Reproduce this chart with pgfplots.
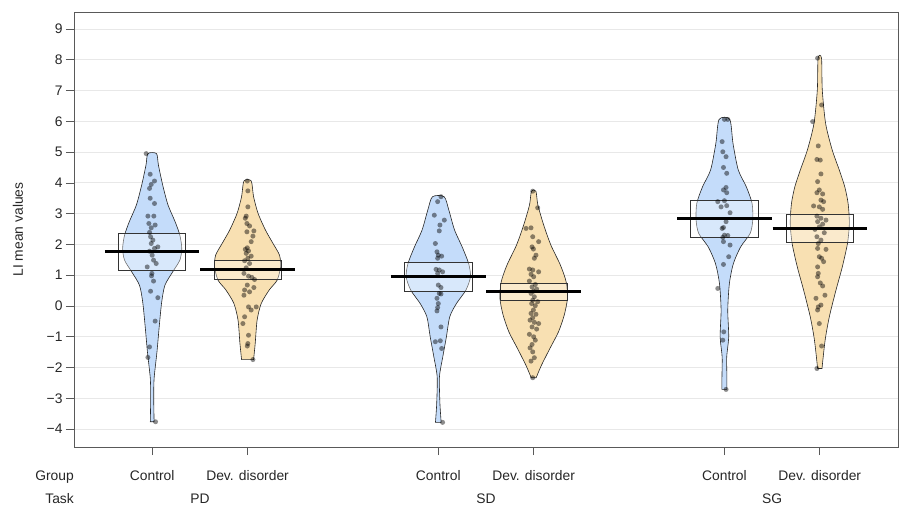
\documentclass[border=0pt]{standalone}
\usepackage{fontspec}
\setmainfont{Liberation Sans}
\usepackage{pgfplots}
\usepackage{pgfplotstable}
\pgfplotsset{compat=1.18}
\newcommand\chartfont{\fontsize{13.9}{16.5}\selectfont}
\definecolor{beanblue}{RGB}{196,220,250}
\definecolor{beanorange}{RGB}{248,224,178}

% violin outlines: y, signed half-width (right side upwards, left side downwards)
\pgfplotstableread{
y s
-3.76 0.02
-3.0 0.016
-2.35 0.02
-1.49 0.05
-0.62 0.075
0.14 0.10
0.68 0.134
1.11 0.215
1.49 0.29
1.87 0.31
2.30 0.29
2.74 0.24
3.28 0.166
3.93 0.11
4.58 0.065
4.95 0.045
4.95 -0.045
4.58 -0.065
3.93 -0.11
3.28 -0.166
2.74 -0.24
2.30 -0.29
1.87 -0.31
1.49 -0.29
1.11 -0.215
0.68 -0.134
0.14 -0.10
-0.62 -0.075
-1.49 -0.05
-2.35 -0.02
-3.0 -0.016
-3.76 -0.02
}\vPDc
\pgfplotstableread{
y s
-1.74 0.063
-1.22 0.08
-0.46 0.10
0.08 0.143
0.52 0.227
0.84 0.31
1.27 0.346
1.65 0.335
2.03 0.267
2.47 0.187
3.01 0.11
3.55 0.063
4.06 0.038
4.06 -0.038
3.55 -0.063
3.01 -0.11
2.47 -0.187
2.03 -0.267
1.65 -0.335
1.27 -0.346
0.84 -0.31
0.52 -0.227
0.08 -0.143
-0.46 -0.10
-1.22 -0.08
-1.74 -0.063
}\vPDd
\pgfplotstableread{
y s
-3.78 0.03
-3.17 0.017
-2.30 0.012
-1.65 0.047
-1.0 0.085
-0.35 0.12
0.08 0.19
0.52 0.29
0.95 0.337
1.38 0.318
1.92 0.25
2.47 0.17
3.12 0.11
3.55 0.061
3.55 -0.061
3.12 -0.11
2.47 -0.17
1.92 -0.25
1.38 -0.318
0.95 -0.337
0.52 -0.29
0.08 -0.19
-0.35 -0.12
-1.0 -0.085
-1.65 -0.047
-2.30 -0.012
-3.17 -0.017
-3.78 -0.03
}\vSDc
\pgfplotstableread{
y s
-2.33 0.026
-1.92 0.082
-1.38 0.17
-0.84 0.26
-0.30 0.32
0.25 0.354
0.79 0.34
1.33 0.28
1.98 0.18
2.63 0.105
3.28 0.044
3.73 0.023
3.73 -0.023
3.28 -0.044
2.63 -0.105
1.98 -0.18
1.33 -0.28
0.79 -0.34
0.25 -0.354
-0.30 -0.32
-0.84 -0.26
-1.38 -0.17
-1.92 -0.082
-2.33 -0.026
}\vSDd
\pgfplotstableread{
y s
-2.71 0.026
-2.30 0.026
-1.65 0.024
-1.0 0.045
-0.13 0.035
0.73 0.052
1.38 0.094
1.92 0.17
2.36 0.27
2.79 0.297
3.33 0.29
3.87 0.23
4.42 0.145
5.28 0.09
6.06 0.056
6.06 -0.056
5.28 -0.09
4.42 -0.145
3.87 -0.23
3.33 -0.29
2.79 -0.297
2.36 -0.27
1.92 -0.17
1.38 -0.094
0.73 -0.052
-0.13 -0.035
-1.0 -0.045
-1.65 -0.024
-2.30 -0.026
-2.71 -0.026
}\vSGc
\pgfplotstableread{
y s
-2.03 0.023
-1.11 0.056
-0.35 0.10
0.52 0.17
1.27 0.236
2.03 0.29
2.68 0.31
3.33 0.297
3.87 0.262
4.42 0.204
5.07 0.13
5.93 0.061
7.02 0.026
8.05 0.018
8.05 -0.018
7.02 -0.026
5.93 -0.061
5.07 -0.13
4.42 -0.204
3.87 -0.262
3.33 -0.297
2.68 -0.31
2.03 -0.29
1.27 -0.236
0.52 -0.17
-0.35 -0.10
-1.11 -0.056
-2.03 -0.023
}\vSGd

% raw points: jitter offset, value
\pgfplotstableread{
dx y
-0.063 4.95
-0.021 4.28
0.024 4.06
-0.010 3.95
-0.028 3.82
-0.021 3.50
0.024 3.33
-0.045 2.92
0.017 2.92
-0.035 2.68
0.031 2.63
-0.010 2.54
-0.028 2.39
-0.017 2.25
0.007 2.14
-0.010 2.03
0.059 1.92
0.024 1.87
-0.028 1.78
0.000 1.65
0.014 1.49
0.042 1.38
-0.052 1.27
-0.003 1.06
-0.007 0.98
0.014 0.81
-0.017 0.48
0.059 0.27
0.031 -0.49
-0.028 -1.33
-0.045 -1.67
0.035 -3.76
}\pPDc
\pgfplotstableread{
dx y
-0.003 4.06
0.003 3.74
0.003 3.22
-0.014 2.92
-0.024 2.85
-0.007 2.68
0.021 2.60
0.066 2.44
-0.007 2.41
0.056 2.27
0.038 2.09
-0.003 1.89
-0.024 1.84
0.010 1.79
-0.014 1.71
0.038 1.62
0.003 1.55
-0.031 1.47
0.021 1.38
-0.014 1.24
-0.038 1.06
0.010 0.97
0.045 0.93
0.073 0.86
-0.003 0.68
0.066 0.60
-0.031 0.52
0.021 0.46
-0.038 0.35
0.010 -0.03
0.091 -0.03
0.038 -0.13
-0.031 -0.35
-0.049 -0.57
0.010 -0.95
0.003 -1.22
-0.003 -1.30
0.056 -1.74
}\pPDd
\pgfplotstableread{
dx y
0.028 3.55
-0.007 3.39
-0.042 2.95
0.063 2.79
0.017 2.63
0.010 2.44
-0.031 2.03
-0.014 1.76
0.000 1.65
0.035 1.62
-0.007 1.55
-0.024 1.19
0.010 1.17
0.045 1.11
-0.007 1.06
0.000 0.68
0.028 0.60
0.010 0.41
0.028 0.39
-0.014 0.25
0.000 0.08
-0.007 -0.05
-0.014 -0.16
0.028 -0.68
-0.031 -1.16
0.021 -1.13
0.035 -1.38
0.045 -3.78
}\pSDc
\pgfplotstableread{
dx y
-0.010 3.73
0.042 3.19
-0.080 2.52
-0.028 2.54
-0.010 2.25
0.052 2.09
-0.017 1.92
-0.003 1.85
0.024 1.65
0.007 1.55
-0.045 1.20
-0.010 1.17
0.052 1.11
-0.028 1.03
0.000 0.95
-0.045 0.81
0.017 0.70
-0.017 0.62
0.031 0.55
-0.003 0.48
-0.028 0.41
0.007 0.30
-0.010 0.19
0.042 0.14
-0.021 0.08
0.017 0.01
-0.003 -0.13
-0.028 -0.24
0.024 -0.27
-0.010 -0.38
-0.038 -0.46
0.007 -0.53
0.052 -0.57
-0.017 -0.68
0.031 -0.75
-0.045 -0.92
0.000 -1.00
0.017 -1.11
-0.017 -1.25
-0.038 -1.36
-0.010 -1.49
0.007 -1.68
-0.028 -1.79
-0.010 -2.33
}\pSDd
\pgfplotstableread{
dx y
0.000 6.06
0.035 6.06
-0.024 5.34
-0.017 5.01
0.017 4.85
-0.010 4.50
0.024 4.31
0.017 3.85
-0.010 3.77
0.024 3.68
-0.070 3.39
0.000 3.42
-0.035 3.22
0.024 3.26
0.059 3.03
0.017 2.74
-0.010 2.55
-0.024 2.52
0.000 2.30
0.035 2.29
-0.017 2.23
-0.010 2.09
0.059 1.98
0.045 1.60
-0.010 1.35
-0.070 0.57
-0.007 -0.84
-0.017 -1.11
0.017 -2.71
}\pSGc
\pgfplotstableread{
dx y
-0.023 8.05
0.019 6.53
-0.075 5.99
-0.016 5.20
-0.030 4.76
0.005 4.74
0.012 4.29
-0.023 4.04
-0.005 3.77
-0.030 3.68
0.030 3.64
0.012 3.44
0.040 3.39
-0.065 3.25
-0.005 3.22
0.030 3.14
-0.030 2.92
0.012 2.85
0.065 2.79
-0.023 2.74
0.030 2.66
-0.005 2.57
-0.051 2.49
0.047 2.38
-0.030 2.25
0.012 2.14
-0.016 2.03
0.065 1.84
-0.023 1.87
-0.005 1.60
0.019 1.55
0.040 1.44
-0.023 1.27
-0.016 1.06
-0.023 0.95
0.005 0.75
0.030 0.65
-0.040 0.25
0.054 0.35
0.012 0.03
-0.016 -0.03
-0.023 -0.13
-0.005 -0.57
0.019 -1.30
-0.030 -2.03
}\pSGd

\pgfplotsset{
  bean/.style={fill=#1, draw=black!85, line width=0.6bp, smooth, tension=0.45},
  infbox/.style={draw=black!80, line width=0.8bp, fill=white, fill opacity=0.35},
  avgline/.style={black, line width=3bp},
  pts/.style={only marks, mark=*, mark size=2.5bp, color=black,
    mark options={draw opacity=0, fill=black, fill opacity=0.45}},
}

\begin{document}
\begin{tikzpicture}[font=\chartfont]
\begin{axis}[
  at={(0,0)}, anchor=south west,
  scale only axis, width=824bp, height=435bp,
  xmin=0.18, xmax=8.82, ymin=-4.58, ymax=9.55,
  xtick={1,2,4,5,7,8}, xticklabels={},
  ytick={-4,-3,-2,-1,0,1,2,3,4,5,6,7,8,9},
  yticklabels={−4,−3,−2,−1,0,1,2,3,4,5,6,7,8,9},
  xtick pos=bottom, ytick pos=left,
  tick align=outside, major tick length=8bp,
  every tick/.style={black!65, line width=0.7bp},
  axis line style={black!65, line width=0.8bp},
  ymajorgrids, grid style={black!9, line width=0.8bp},
  yticklabel style={font=\chartfont, text=black!85},
  ylabel={LI mean values},
  ylabel style={font=\chartfont, text=black!85, at={(axis description cs:-0.068,0.5)}, anchor=center},
  clip=false,
]
% beans
\addplot[bean=beanblue]   table[x expr=1+\thisrow{s}, y=y]{\vPDc} -- cycle;
\addplot[bean=beanorange] table[x expr=2+\thisrow{s}, y=y]{\vPDd} -- cycle;
\addplot[bean=beanblue]   table[x expr=4+\thisrow{s}, y=y]{\vSDc} -- cycle;
\addplot[bean=beanorange] table[x expr=5+\thisrow{s}, y=y]{\vSDd} -- cycle;
\addplot[bean=beanblue]   table[x expr=7+\thisrow{s}, y=y]{\vSGc} -- cycle;
\addplot[bean=beanorange] table[x expr=8+\thisrow{s}, y=y]{\vSGd} -- cycle;

% inference boxes
\addplot[infbox] coordinates {(0.647,1.15) (1.353,1.15) (1.353,2.35) (0.647,2.35)} -- cycle;
\addplot[infbox] coordinates {(1.647,0.86) (2.353,0.86) (2.353,1.47) (1.647,1.47)} -- cycle;
\addplot[infbox] coordinates {(3.647,0.47) (4.353,0.47) (4.353,1.43) (3.647,1.43)} -- cycle;
\addplot[infbox] coordinates {(4.647,0.17) (5.353,0.17) (5.353,0.75) (4.647,0.75)} -- cycle;
\addplot[infbox] coordinates {(6.647,2.24) (7.353,2.24) (7.353,3.44) (6.647,3.44)} -- cycle;
\addplot[infbox] coordinates {(7.647,2.08) (8.353,2.08) (8.353,2.98) (7.647,2.98)} -- cycle;

% raw data points
\addplot[pts] table[x expr=1+\thisrow{dx}, y=y]{\pPDc};
\addplot[pts] table[x expr=2+\thisrow{dx}, y=y]{\pPDd};
\addplot[pts] table[x expr=4+\thisrow{dx}, y=y]{\pSDc};
\addplot[pts] table[x expr=5+\thisrow{dx}, y=y]{\pSDd};
\addplot[pts] table[x expr=7+\thisrow{dx}, y=y]{\pSGc};
\addplot[pts] table[x expr=8+\thisrow{dx}, y=y]{\pSGd};

% means
\addplot[avgline] coordinates {(0.505,1.76) (1.495,1.76)};
\addplot[avgline] coordinates {(1.505,1.18) (2.495,1.18)};
\addplot[avgline] coordinates {(3.505,0.95) (4.495,0.95)};
\addplot[avgline] coordinates {(4.505,0.48) (5.495,0.48)};
\addplot[avgline] coordinates {(6.505,2.85) (7.495,2.85)};
\addplot[avgline] coordinates {(7.505,2.53) (8.495,2.53)};

% group / task labels
\node[anchor=base east, inner sep=0pt, text=black!85] at (axis cs:0.18,-5.658) {Group};
\node[anchor=base east, inner sep=0pt, text=black!85] at (axis cs:0.18,-6.405) {Task};
\node[anchor=base, text=black!85] at (axis cs:1,-5.658) {Control};
\node[anchor=base, text=black!85] at (axis cs:2,-5.658) {Dev. disorder};
\node[anchor=base, text=black!85] at (axis cs:4,-5.658) {Control};
\node[anchor=base, text=black!85] at (axis cs:5,-5.658) {Dev. disorder};
\node[anchor=base, text=black!85] at (axis cs:7,-5.658) {Control};
\node[anchor=base, text=black!85] at (axis cs:8,-5.658) {Dev. disorder};
\node[anchor=base, text=black!85] at (axis cs:1.5,-6.405) {PD};
\node[anchor=base, text=black!85] at (axis cs:4.5,-6.405) {SD};
\node[anchor=base, text=black!85] at (axis cs:7.5,-6.405) {SG};
\end{axis}
\pgfresetboundingbox
\path[use as bounding box] (-74bp,-59bp) rectangle (825bp,447bp);
\end{tikzpicture}
\end{document}
